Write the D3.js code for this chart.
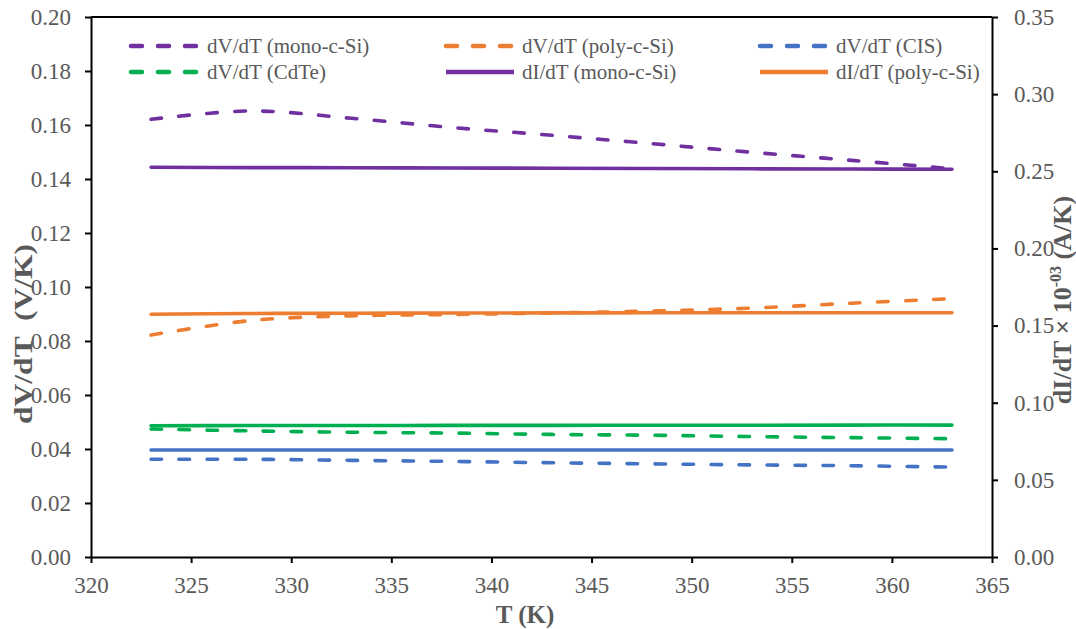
<!doctype html>
<html lang="en">
  <head>
    <meta charset="UTF-8"/>
    <title>dV/dT and dI/dT vs T</title>
    <script src="https://cdnjs.cloudflare.com/ajax/libs/d3/7.8.5/d3.min.js"></script>
    <style>
      body { margin: 0; background: #fff; }
      svg text { font-family: "Liberation Serif", "Times New Roman", serif; fill: #595959; }
    </style>
  </head>
  <body>
    <svg id="chart" width="1076" height="629"></svg>
    <script>
      // temperatures (K)
      var temps = [323, 328, 333, 338, 343, 348, 353, 358, 363];

      // left axis, V/K
      var dvMono  = [0.1621, 0.1652, 0.1625, 0.1591, 0.1562, 0.1531, 0.1499, 0.1469, 0.1438];
      var dvPoly  = [0.0822, 0.0876, 0.0893, 0.0898, 0.0904, 0.0911, 0.0922, 0.0940, 0.0957];
      var dvCIS   = [0.0362, 0.0362, 0.0358, 0.0354, 0.0349, 0.0345, 0.0341, 0.0338, 0.0333];
      var dvCdTe  = [0.0474, 0.0467, 0.0462, 0.0459, 0.0454, 0.0451, 0.0446, 0.0442, 0.0438];

      // right axis, A/K x 10^-3
      var diMono  = [0.2526, 0.2524, 0.2523, 0.2521, 0.2520, 0.2518, 0.2516, 0.2515, 0.2513];
      var diPoly  = [0.1573, 0.1578, 0.1580, 0.1581, 0.1582, 0.1583, 0.1583, 0.1583, 0.1583];
      var diCIS   = [0.0694, 0.0694, 0.0694, 0.0694, 0.0694, 0.0694, 0.0694, 0.0694, 0.0694];
      var diCdTe  = [0.0851, 0.0852, 0.0852, 0.0853, 0.0853, 0.0854, 0.0854, 0.0855, 0.0855];

      var xTicks = [320, 325, 330, 335, 340, 345, 350, 355, 360, 365];
      var yLeftTicks = [0, 0.02, 0.04, 0.06, 0.08, 0.10, 0.12, 0.14, 0.16, 0.18, 0.20];
      var yRightTicks = [0, 0.05, 0.10, 0.15, 0.20, 0.25, 0.30, 0.35];

      var purple = "#7030A0", orange = "#ED7D31", blue = "#4472C4", green = "#00B050";

      var series = [
        {name: "dV/dT (mono-c-Si)", vals: dvMono, axis: "L", color: purple, dash: true},
        {name: "dV/dT (poly-c-Si)", vals: dvPoly, axis: "L", color: orange, dash: true},
        {name: "dV/dT (CIS)",       vals: dvCIS,  axis: "L", color: blue,   dash: true},
        {name: "dV/dT (CdTe)",      vals: dvCdTe, axis: "L", color: green,  dash: true},
        {name: "dI/dT (mono-c-Si)", vals: diMono, axis: "R", color: purple, dash: false},
        {name: "dI/dT (poly-c-Si)", vals: diPoly, axis: "R", color: orange, dash: false},
        {name: "dI/dT (CIS)",       vals: diCIS,  axis: "R", color: blue,   dash: false, noLegend: true},
        {name: "dI/dT (CdTe)",      vals: diCdTe, axis: "R", color: green,  dash: false, noLegend: true}
      ];

      var plotL = 91, plotR = 992, plotT = 17, plotB = 557;
      var svg = d3.select("#chart");

      var x = d3.scaleLinear().domain([320, 365]).range([plotL, plotR]);
      var yL = d3.scaleLinear().domain([0, 0.20]).range([plotB, plotT]);
      var yR = d3.scaleLinear().domain([0, 0.35]).range([plotB, plotT]);

      function styleAxis(g) {
        g.select(".domain").attr("stroke", "#000").attr("stroke-width", 2);
        g.selectAll(".tick line").attr("stroke", "#000").attr("stroke-width", 2);
        g.selectAll(".tick text")
          .attr("font-size", "23px")
          .attr("fill", "#595959")
          .attr("font-family", "Liberation Serif, Times New Roman, serif");
      }

      // top border
      svg.append("line")
        .attr("x1", plotL).attr("x2", plotR)
        .attr("y1", plotT).attr("y2", plotT)
        .attr("stroke", "#000").attr("stroke-width", 2);

      svg.append("g")
        .attr("transform", "translate(0," + plotB + ")")
        .call(d3.axisBottom(x).tickValues(xTicks).tickSize(6).tickPadding(14).tickSizeOuter(0).tickFormat(d3.format("d")))
        .call(styleAxis);

      svg.append("g")
        .attr("transform", "translate(" + plotL + ",0)")
        .call(d3.axisLeft(yL).tickValues(yLeftTicks).tickSize(6).tickPadding(14).tickSizeOuter(0).tickFormat(d3.format(".2f")))
        .call(styleAxis);

      svg.append("g")
        .attr("transform", "translate(" + plotR + ",0)")
        .call(d3.axisRight(yR).tickValues(yRightTicks).tickSize(6).tickPadding(16).tickSizeOuter(0).tickFormat(d3.format(".2f")))
        .call(styleAxis);

      // lines
      series.forEach(function(s) {
        var yScale = s.axis === "L" ? yL : yR;
        var line = d3.line()
          .x(function(d, i) { return x(temps[i]); })
          .y(function(d) { return yScale(d); })
          .curve(d3.curveCatmullRom.alpha(0.5));
        svg.append("path")
          .datum(s.vals)
          .attr("d", line)
          .attr("fill", "none")
          .attr("stroke", s.color)
          .attr("stroke-width", s.dash ? 3.6 : 3.6)
          .attr("stroke-linecap", "round")
          .attr("stroke-dasharray", s.dash ? "10.5,17.5" : null);
      });

      // legend
      var legendCols = [129, 444, 758];
      var legendRows = [46, 72];
      var legendItems = series.filter(function(s) { return !s.noLegend; });
      legendItems.forEach(function(s, i) {
        var lx = legendCols[i % 3], ly = legendRows[Math.floor(i / 3)];
        svg.append("line")
          .attr("x1", lx + 2).attr("x2", lx + 70)
          .attr("y1", ly).attr("y2", ly)
          .attr("stroke", s.color)
          .attr("stroke-width", s.dash ? 4.5 : 4.5)
          .attr("stroke-linecap", s.dash ? "round" : "butt")
          .attr("stroke-dasharray", s.dash ? "11,16" : null);
        svg.append("text")
          .attr("x", lx + 78).attr("y", ly + 7)
          .attr("font-size", "21px")
          .text(s.name);
      });

      // axis titles
      svg.append("text")
        .attr("x", 525).attr("y", 623)
        .attr("text-anchor", "middle")
        .attr("font-size", "25px").attr("font-weight", "bold")
        .text("T (K)");

      svg.append("text")
        .attr("transform", "translate(32,334) rotate(-90)")
        .attr("text-anchor", "middle")
        .attr("font-size", "26px").attr("font-weight", "bold")
        .attr("textLength", 180).attr("lengthAdjust", "spacingAndGlyphs")
        .style("white-space", "pre")
        .text("dV/dT  (V/K)");

      var rt = svg.append("text")
        .attr("transform", "translate(1071,300) rotate(-90)")
        .attr("text-anchor", "middle")
        .attr("font-size", "26px").attr("font-weight", "bold");
      rt.append("tspan").text("dI/dT \u00d7 10");
      rt.append("tspan").attr("dy", -10).attr("font-size", "16px").text("-03");
      rt.append("tspan").attr("dy", 10).text(" (A/K)");
    </script>
  </body>
</html>
